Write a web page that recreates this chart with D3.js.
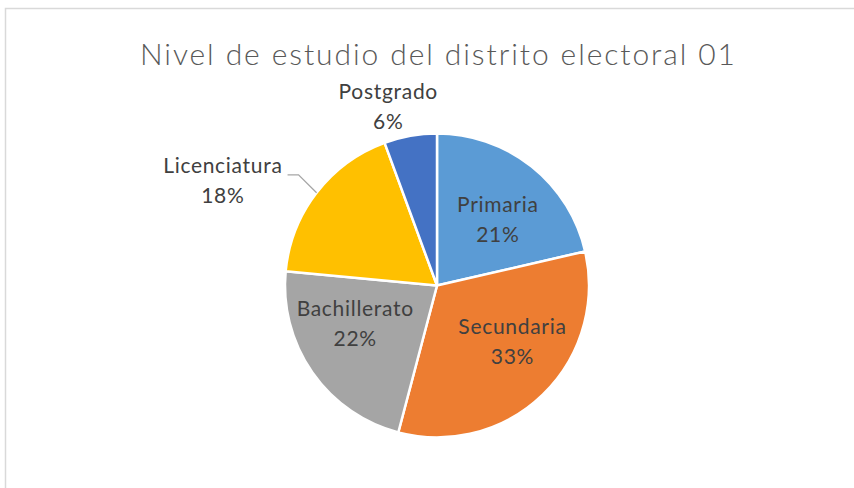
<!DOCTYPE html>
<html><head><meta charset="utf-8">
<script src="https://cdn.jsdelivr.net/npm/d3@7"></script>
<style>body{margin:0;background:#fff;}svg{display:block;}</style>
</head><body>
<svg id="c" width="854" height="488"></svg>
<script>
const categories = ["Primaria","Secundaria","Bachillerato","Licenciatura","Postgrado"];
const values = [21.4,32.7,22.4,17.9,5.6];
const colors = ["#5B9BD5","#ED7D31","#A5A5A5","#FFC000","#4472C4"];
const outside = [false,false,false,true,true];
const title = "Nivel de estudio del distrito electoral 01";

const svg = d3.select("#c");
const W=854,H=488, cx=437, cy=285.5, R=152;
const font = "Lato, 'Open Sans', sans-serif";
// small best-fit label nudges (layout only)
const nudge = {Primaria:[4,5], Secundaria:[12,-9], Bachillerato:[-7,-14], Postgrado:[0,7], Licenciatura:[0,3]};

svg.append("rect").attr("x",5.5).attr("y",8.5).attr("width",W+20).attr("height",H+20)
  .attr("fill","#fff").attr("stroke","#d9d9d9").attr("stroke-width",1.5);

svg.append("text").attr("x",437.5).attr("y",64.5).attr("text-anchor","middle")
  .attr("font-family",font).attr("font-weight",300).attr("font-size",30)
  .attr("textLength",595).attr("lengthAdjust","spacing")
  .attr("fill","#595959").text(title);

const data = categories.map((c,i)=>({cat:c,val:values[i],color:colors[i],out:outside[i]}));
const pie = d3.pie().value(d=>d.val).sort(null);
const arcs = pie(data);
const arc = d3.arc().innerRadius(0).outerRadius(R);
const g = svg.append("g").attr("transform",`translate(${cx},${cy})`);

g.selectAll("path").data(arcs).join("path")
  .attr("d",arc).attr("fill",d=>d.data.color)
  .attr("stroke","#fff").attr("stroke-width",2.5).attr("stroke-linejoin","round");

const total = d3.sum(values);
const fmt = v=>Math.round(v/total*100)+"%";
const fs=21, lh=30;
// (x, y) = visual centre of the two-line label block
function addLabel(x,y,d){
  const t = g.append("text").attr("font-family",font).attr("font-size",fs)
    .attr("letter-spacing",0.7)
    .attr("fill","#404040").attr("text-anchor","middle");
  t.append("tspan").attr("x",x).attr("y",y-7.5).text(d.data.cat);
  t.append("tspan").attr("x",x).attr("y",y-7.5+lh).text(fmt(d.data.val));
  return t;
}
arcs.forEach(d=>{
  const mid=(d.startAngle+d.endAngle)/2;
  const n = nudge[d.data.cat];
  if(!d.data.out){
    const c = d3.arc().innerRadius(R*0.6).outerRadius(R*0.6).centroid(d);
    addLabel(c[0]+n[0],c[1]+n[1],d);
  } else if(d.endAngle-d.startAngle > 0.5){
    // leader line label
    const p0=[Math.sin(mid)*R, -Math.cos(mid)*R];
    const p1=[Math.sin(mid)*R*1.15, -Math.cos(mid)*R*1.15-4];
    const p2=[p1[0]-11, p1[1]];
    g.append("polyline").attr("points",[p0,p1,p2].map(p=>p.join(",")).join(" "))
      .attr("fill","none").attr("stroke","#a6a6a6").attr("stroke-width",1.3);
    const t = addLabel(0,p1[1]+3+n[1],d);
    const w = t.node().getBBox().width;
    t.selectAll("tspan").attr("x",p2[0]-5-w/2+n[0]);
  } else {
    const r=R*1.23;
    addLabel(Math.sin(mid)*r-16+n[0], -Math.cos(mid)*r-2+n[1], d);
  }
});
</script>
</body></html>
